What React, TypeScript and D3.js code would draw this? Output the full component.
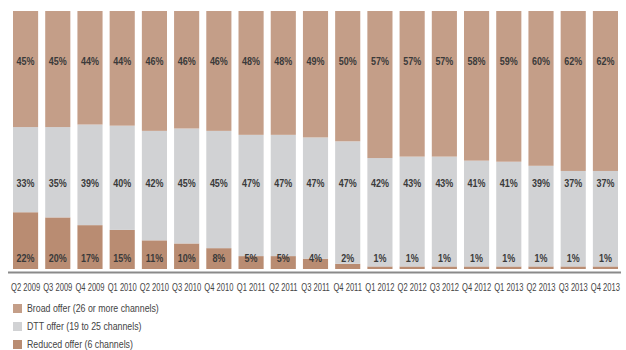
import React from "react";
import * as d3 from "d3";

const categories = ["Q2 2009","Q3 2009","Q4 2009","Q1 2010","Q2 2010","Q3 2010","Q4 2010","Q1 2011","Q2 2011","Q3 2011","Q4 2011","Q1 2012","Q2 2012","Q3 2012","Q4 2012","Q1 2013","Q2 2013","Q3 2013","Q4 2013"];
const reduced = [22,20,17,15,11,10,8,5,5,4,2,1,1,1,1,1,1,1,1];
const dtt = [33,35,39,40,42,45,45,47,47,47,47,42,43,43,41,41,39,37,37];
const broad = [45,45,44,44,46,46,46,48,48,49,50,57,57,57,58,59,60,62,62];
const seriesNames = ["Reduced offer (6 channels)","DTT offer (19 to 25 channels)","Broad offer (26 or more channels)"];
const legendOrder = ["Broad offer (26 or more channels)","DTT offer (19 to 25 channels)","Reduced offer (6 channels)"];
const colors: Record<string,string> = {
  "Reduced offer (6 channels)": "#b98c72",
  "DTT offer (19 to 25 channels)": "#d1d2d4",
  "Broad offer (26 or more channels)": "#c49e88",
};
const keys = ["reduced","dtt","broad"];

const rows = categories.map((c, i) => ({ cat: c, reduced: reduced[i], dtt: dtt[i], broad: broad[i] }));

export default function App() {
  const W = 626, H = 350;
  const x = d3.scaleBand<string>().domain(categories).range([13, 618]).paddingInner(0.22).paddingOuter(0);
  const y = d3.scaleLinear().domain([0, 1]).range([269, 11]);
  const stack = d3.stack<any>().keys(keys).offset(d3.stackOffsetExpand);
  const layers = stack(rows);
  const labelY = [258, 183, 61];
  const font = "'Liberation Sans', Arial, sans-serif";
  const sx = 0.78;
  return (
    <div style={{ position: "absolute", left: 0, top: 0 }}>
      <svg width={W} height={H} style={{ display: "block", background: "#fff" }} fontFamily={font}>
        {layers.map((layer, li) => (
          <g key={li} fill={colors[seriesNames[li]]}>
            {layer.map((d, i) => (
              <rect key={i} x={x(categories[i])} width={x.bandwidth()} y={y(d[1])} height={y(d[0]) - y(d[1])} />
            ))}
          </g>
        ))}
        {layers.map((layer, li) => (
          <g key={"t" + li}>
            {layer.map((d, i) => (
              <text key={i} transform={`translate(${(x(categories[i]) as number) + x.bandwidth() / 2},${labelY[li]}) scale(${sx},1)`} dy="0.35em" textAnchor="middle" fontSize={11.5} fontWeight="bold" fill="#3a3a3a">
                {(rows[i] as any)[keys[li]]}%
              </text>
            ))}
          </g>
        ))}
        <line x1={8} x2={621} y1={272.5} y2={272.5} stroke="#8a8a8a" strokeWidth={2} />
        {categories.map((c) => (
          <text key={c} transform={`translate(${(x(c) as number) + x.bandwidth() / 2},287) scale(0.76,1)`} dy="0.35em" textAnchor="middle" fontSize={10} fill="#444">
            {c}
          </text>
        ))}
        {legendOrder.map((n, i) => (
          <g key={n} transform={`translate(13, ${304 + i * 18})`}>
            <rect width={9} height={9} fill={colors[n]} />
            <text transform={`translate(14,4.5) scale(0.8,1)`} dy="0.35em" fontSize={11} fill="#444">{n}</text>
          </g>
        ))}
      </svg>
    </div>
  );
}
